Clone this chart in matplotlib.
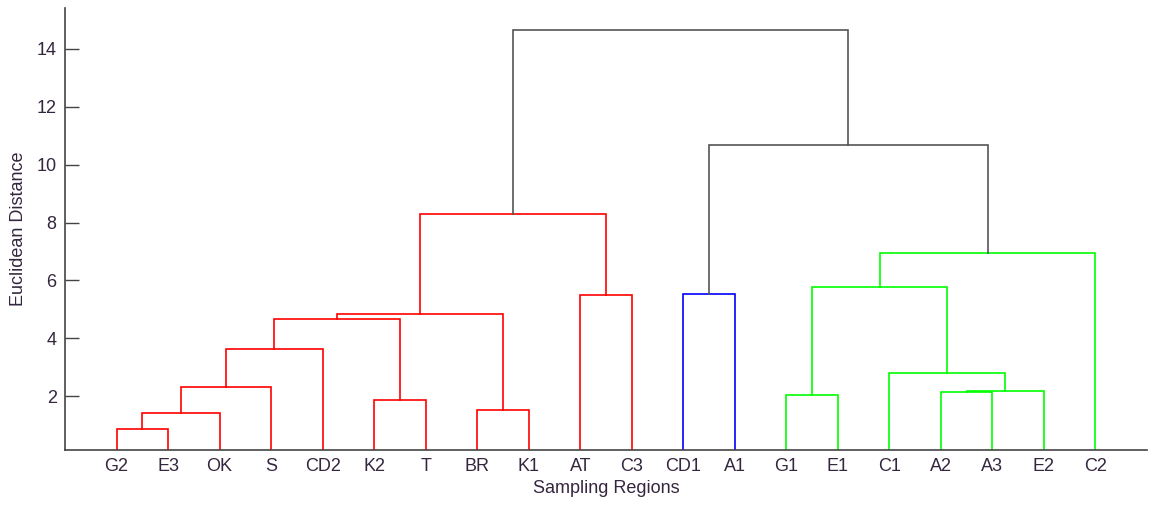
import matplotlib
matplotlib.use("Agg")
import matplotlib.pyplot as plt

# Leaves in dendrogram order
leaves = ["G2", "E3", "OK", "S", "CD2", "K2", "T", "BR", "K1", "AT",
          "C3", "CD1", "A1", "G1", "E1", "C1", "A2", "A3", "E2", "C2"]

# Merges: (left child, right child, height); clusters are named c1, c2, ...
merge_left = ["G2", "c1", "c2", "c3", "K2", "c4", "BR", "c6", "AT", "c8",
              "CD1", "G1", "A2", "c13", "C1", "c12", "c16", "c11", "c10"]
merge_right = ["E3", "OK", "S", "CD2", "T", "c5", "K1", "c7", "C3", "c9",
               "A1", "E1", "A3", "E2", "c14", "c15", "C2", "c17", "c18"]
merge_height = [0.89, 1.42, 2.34, 3.65, 1.86, 4.67, 1.52, 4.86, 5.50, 8.30,
                5.54, 2.05, 2.14, 2.19, 2.82, 5.79, 6.94, 10.68, 14.66]

yticks = [2, 4, 6, 8, 10, 12, 14]

plt.rcParams['font.family'] = ['Liberation Sans', 'DejaVu Sans']
text_color = '#35263f'
fs = 13

fig = plt.figure(figsize=(11.5, 5.07), dpi=100)
ax = fig.add_axes([0.0565, 0.1124, 0.9409, 0.8716])

pos = {name: i + 1 for i, name in enumerate(leaves)}
hgt = {name: 0.0 for name in leaves}

# colour threshold as MATLAB: 0.7 * max height
thr = 0.7 * max(merge_height)
palette = ['#ff0000', '#0000ff', '#00ff00']
children = {}
for k, (l, r) in enumerate(zip(merge_left, merge_right)):
    children[f"c{k+1}"] = (l, r)

color_of = {}
ci = 0
def assign(node, col):
    global ci
    if node in children:
        h = merge_height[int(node[1:]) - 1]
        if col is None and h < thr:
            col = palette[ci % len(palette)]
            ci += 1
        color_of[node] = col if col is not None else '#555555'
        for c in children[node]:
            assign(c, col)
assign(f"c{len(merge_height)}", None)

for k, (l, r, h) in enumerate(zip(merge_left, merge_right, merge_height)):
    name = f"c{k+1}"
    xl, xr = pos[l], pos[r]
    yl, yr = hgt[l], hgt[r]
    ax.plot([xl, xl, xr, xr], [yl, h, h, yr], color=color_of[name], lw=1.2,
            solid_joinstyle='miter', zorder=2)
    pos[name] = (xl + xr) / 2
    hgt[name] = h

ax.set_xlim(0, 21)
ax.set_ylim(0.15, 15.4)
ax.set_xticks(range(1, len(leaves) + 1))
ax.set_xticklabels(leaves)
ax.set_yticks(yticks)
ax.tick_params(axis='x', length=0, pad=6, labelsize=fs, labelcolor=text_color)
ax.tick_params(axis='y', direction='in', length=10, width=1, pad=6,
               labelsize=fs, labelcolor=text_color, color='#444444')
for s in ['top', 'right']:
    ax.spines[s].set_visible(False)
for s in ['left', 'bottom']:
    ax.spines[s].set_color('#444444')
    ax.spines[s].set_linewidth(1.2)
    ax.spines[s].set_zorder(3)

ax.set_xlabel('Sampling Regions', fontsize=fs, color=text_color, labelpad=3)
ax.set_ylabel('Euclidean Distance', fontsize=fs, color=text_color, labelpad=7)

fig.savefig('out.png', dpi=100)
